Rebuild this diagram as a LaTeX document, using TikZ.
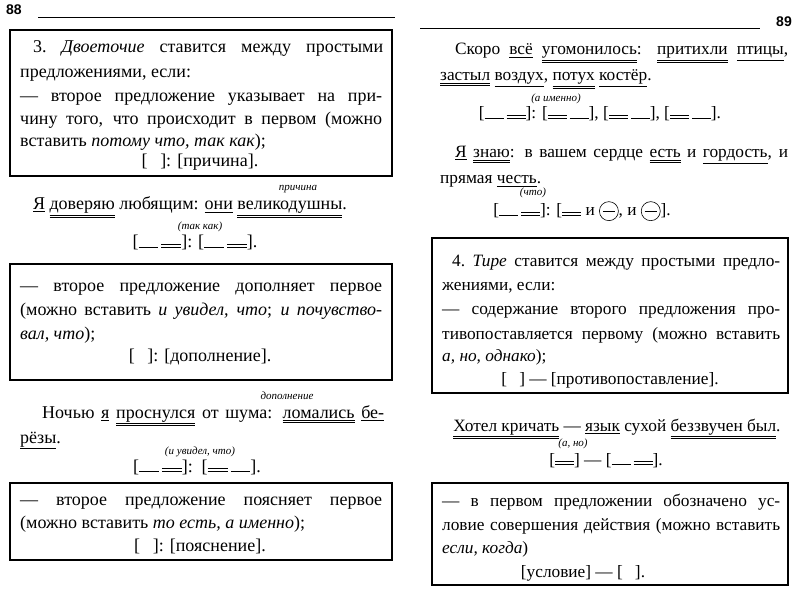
\documentclass[tikz,border=0pt]{standalone}
\usepackage{fontspec}
\setmainfont{Liberation Serif}
\newfontfamily\hdr{Liberation Sans}
\newcommand\myul[1]{\leavevmode\vtop{\hbox{#1}\kern1.5pt\hrule height0.7pt}}
\newcommand\myuul[1]{\leavevmode\vtop{\hbox{#1}\kern1.5pt\hrule height0.7pt\kern1.3pt\hrule height0.7pt}}
\newcommand\sgl{\rule[-0.02em]{1.1em}{0.05em}}
\newcommand\dbl{\rlap{\rule[-0.02em]{1.1em}{0.05em}}\rule[0.16em]{1.1em}{0.05em}}
\newcommand\circd{\tikz[baseline=0pt]{\draw[line width=0.6pt] (0,0.28em) circle (0.55em); \draw[line width=0.6pt] (-0.35em,0.28em)--(0.35em,0.28em);}}
\newcommand\jl[2]{\makebox[#1pt][s]{#2}}
\begin{document}
\begin{tikzpicture}[x=1pt,y=-1pt,
  every node/.style={inner sep=0pt,font=\fontsize{18}{20}\selectfont},
  rt/.style={font=\fontsize{17.3}{20}\selectfont},
  ln/.style={anchor=base west},
  ct/.style={anchor=base},
  lbl/.style={anchor=base,font=\fontsize{11}{12}\selectfont\itshape},
  frame/.style={draw,line width=1.1pt}]
\useasboundingbox[fill=white] (0,0) rectangle (800,593);
% headers
\node[anchor=base west,font=\hdr\bfseries\fontsize{14}{16}\selectfont] (p88) at (6,15) {88};
\draw[line width=0.7pt] (38,17) -- (395,17);
\node[anchor=base east,font=\hdr\bfseries\fontsize{14}{16}\selectfont] (p89) at (792,27) {89};
\draw[line width=0.7pt] (420,28) -- (760,28);
% box 1
\draw[frame] (10,30) rectangle (392,176);
\node[ln] (a1) at (33,53) {\jl{350}{3.~\textit{Двоеточие} ставится между простыми}};
\node[ln] (a2) at (20,78) {предложениями, если:};
\node[ln] (a3) at (20,102) {\jl{362}{— второе предложение указывает на при-}};
\node[ln] (a4) at (20,125) {\jl{362}{чину того, что происходит в первом (можно}};
\node[ln] (a5) at (20,147) {вставить \textit{потому что, так как});};
\node[ct] (a6) at (200,167) {[\hspace{0.7em}]: [причина].};
% sentence 1
\node[lbl] (s1l) at (298,191) {причина};
\node[ct] (s1) at (190,210) {\myul{Я} \myuul{доверяю} любящим: \myul{они} \myuul{великодушны}.};
\node[lbl] (s1k) at (200,230) {(так как)};
\node[ct] (s1s) at (195,248) {[\sgl\,\dbl]: [\sgl\,\dbl].};
% box 2
\draw[frame] (10,264) rectangle (392,380);
\node[ln] (b1) at (20,292) {\jl{362}{— второе предложение дополняет первое}};
\node[ln] (b2) at (20,316) {\jl{362}{(можно вставить \textit{и увидел, что}; \textit{и почувство-}}};
\node[ln] (b3) at (20,339) {\textit{вал, что});};
\node[ct] (b4) at (200,362) {[\hspace{0.7em}]: [дополнение].};
% sentence 2
\node[lbl] (s2l) at (287,399) {дополнение};
\node[ln] (s2a) at (42,418) {\jl{342}{Ночью \myul{я} \myuul{проснулся} от шума: \myuul{ломались} \myul{бе-}}};
\node[ln] (s2b) at (20,443) {\myul{рёзы}.};
\node[lbl] (s2k) at (200,454) {(и увидел, что)};
\node[ct] (s2s) at (197,472) {[\sgl\,\dbl]:\enspace[\dbl\,\sgl].};
% box 3
\draw[frame] (10,483) rectangle (392,560);
\node[ln] (c1) at (20,505) {\jl{362}{— второе предложение поясняет первое}};
\node[ln] (c2) at (20,528) {(можно вставить \textit{то есть, а именно});};
\node[ct] (c3) at (200,551) {[\hspace{0.7em}]: [пояснение].};
% right sentence 1
\node[ln,rt] (r1a) at (455,55) {\jl{333}{Скоро \myul{всё} \myuul{угомонилось}: \myuul{притихли} \myul{птицы},}};
\node[ln,rt] (r1b) at (440,81) {\myuul{застыл} \myul{воздух}, \myuul{потух} \myul{костёр}.};
\node[lbl] (r1k) at (556,102) {(а именно)};
\node[ct,rt] (r1s) at (600,119) {[\sgl\,\dbl]: [\dbl\,\sgl], [\dbl\,\sgl], [\dbl\,\sgl].};
% right sentence 2
\node[ln,rt] (r2a) at (455,158) {\jl{333}{\myul{Я} \myuul{знаю}: в вашем сердце \myuul{есть} и \myul{гордость}, и}};
\node[ln,rt] (r2b) at (440,184) {прямая \myul{честь}.};
\node[lbl] (r2k) at (533,196) {(что)};
\node[ct,rt] (r2s) at (582,216) {[\sgl\,\dbl]: [\dbl\ и \circd, и \circd].};
% box 4
\draw[frame] (432,238) rectangle (788,393);
\node[ln,rt] (d1) at (452,267) {\jl{328}{4.~\textit{Тире} ставится между простыми предло-}};
\node[ln,rt] (d2) at (442,291) {жениями, если:};
\node[ln,rt] (d3) at (442,315) {\jl{338}{— содержание второго предложения про-}};
\node[ln,rt] (d4) at (442,339) {\jl{338}{тивопоставляется первому (можно вставить}};
\node[ln,rt] (d5) at (442,362) {\textit{а, но, однако});};
\node[ct,rt] (d6) at (610,384) {[\hspace{0.7em}] — [противопоставление].};
% right sentence 3
\node[ct,rt] (r3) at (617,431) {\myuul{Хотел кричать} — \myul{язык} сухой \myuul{беззвучен был}.};
\node[lbl] (r3k) at (573,446) {(а, но)};
\node[ct,rt] (r3s) at (606,465) {[\dbl] — [\sgl\,\dbl].};
% box 5
\draw[frame] (432,483) rectangle (788,585);
\node[ln,rt] (e1) at (442,506) {\jl{338}{— в первом предложении обозначено ус-}};
\node[ln,rt] (e2) at (442,530) {\jl{338}{ловие совершения действия (можно вставить}};
\node[ln,rt] (e3) at (442,553) {\textit{если, когда})};
\node[ct,rt] (e4) at (583,577) {[условие] — [\hspace{0.7em}].};
\end{tikzpicture}
\end{document}
